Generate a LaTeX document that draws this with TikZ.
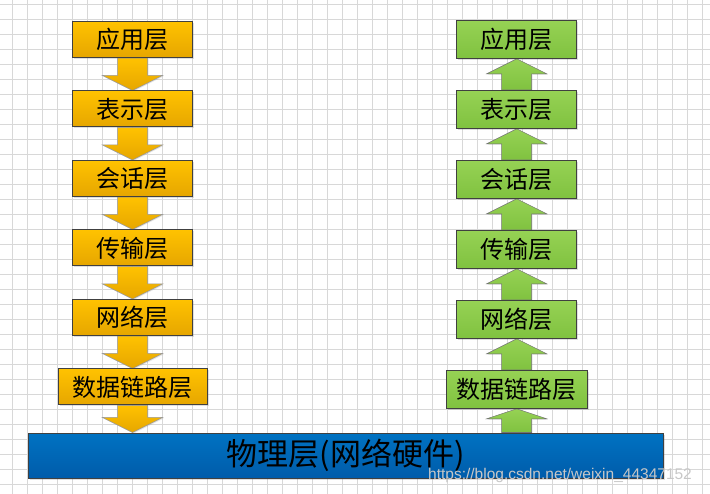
\documentclass[tikz,border=0pt]{standalone}
\usepackage{fontspec}
\setmainfont{Noto Sans CJK SC}
\newfontfamily\markfont{Liberation Sans}
\usepackage{tikz}
\usetikzlibrary{positioning, calc, backgrounds, shadows}

\definecolor{sendtop}{RGB}{255,194,0}
\definecolor{sendbot}{RGB}{230,166,0}
\definecolor{recvtop}{RGB}{150,210,84}
\definecolor{recvbot}{RGB}{128,194,64}
\definecolor{hwtop}{RGB}{0,114,194}
\definecolor{hwbot}{RGB}{0,92,170}
\definecolor{gridgray}{RGB}{216,216,216}

\begin{document}
\begin{tikzpicture}[x=1pt, y=1pt]

  \tikzstyle{layer}=[draw=black!75, line width=1pt, inner sep=0pt, minimum width=120pt,
    font=\fontsize{24}{24}\selectfont,
    drop shadow={shadow xshift=1.5pt, shadow yshift=-1.5pt, opacity=.25}]
  \tikzstyle{send}=[layer, minimum height=36pt, top color=sendtop, bottom color=sendbot]
  \tikzstyle{recv}=[layer, minimum height=38pt, top color=recvtop, bottom color=recvbot]
  \tikzstyle{hw}=[layer, minimum width=635pt, minimum height=45pt,
    top color=hwtop, bottom color=hwbot, font=\fontsize{31}{31}\selectfont]
  \tikzstyle{downblock}=[draw=black!40, line width=.5pt, top color=sendtop, bottom color=sendbot,
    drop shadow={shadow xshift=1pt, shadow yshift=-1pt, opacity=.2}]
  \tikzstyle{upblock}=[draw=black!55, line width=.5pt, top color=recvtop, bottom color=recvbot,
    drop shadow={shadow xshift=1pt, shadow yshift=-1pt, opacity=.2}]
  \tikzstyle{gridline}=[gridgray, line width=.8pt]

  \useasboundingbox (0,-494) rectangle (710,0);

  % sending side
  \node [send] (s-app) at (132.5,-39.5) {应用层};
  \node [send, below = 32.5pt of s-app] (s-pre) {表示层};
  \node [send, below = 32.5pt of s-pre] (s-ses) {会话层};
  \node [send, below = 32.5pt of s-ses] (s-tra) {传输层};
  \node [send, below = 32.5pt of s-tra] (s-net) {网络层};
  \node [send, below = 32.5pt of s-net, minimum width=149pt] (s-dl) {数据链路层};

  % receiving side
  \node [recv] (r-app) at (516.7,-39.3) {应用层};
  \node [recv, below = 31pt of r-app] (r-pre) {表示层};
  \node [recv, below = 31pt of r-pre] (r-ses) {会话层};
  \node [recv, below = 31pt of r-ses] (r-tra) {传输层};
  \node [recv, below = 31pt of r-tra] (r-net) {网络层};
  \node [recv, below = 31pt of r-net, minimum width=141pt] (r-dl) {数据链路层};

  \node [hw] (phys) at (345.5,-455.5) {物理层(网络硬件)};

  \coordinate (s-hit) at (s-dl.south |- phys.north);
  \coordinate (r-base) at (r-dl.south |- phys.north);

  \node [anchor=base west, font=\markfont\fontsize{15.5}{15.5}\selectfont, text=black!22, inner sep=0pt]
    (mark) at (428,-479) {https://blog.csdn.net/weixin\_44347152};

  \begin{scope}[on background layer]
    \foreach \x in {12.7,27.7,...,710} \draw [gridline] (\x,0) -- (\x,-494);
    \foreach \y in {4.3,19.3,...,494} \draw [gridline] (0,-\y) -- (710,-\y);

    \foreach \a/\b/\h in {s-app.south/s-pre.north/15, s-pre.south/s-ses.north/15,
        s-ses.south/s-tra.north/15, s-tra.south/s-net.north/15,
        s-net.south/s-dl.north/15, s-dl.south/s-hit/15}
      \draw [downblock] ($(\a)+(-15,0)$) -- ($(\b)+(-15,\h)$) -- ($(\b)+(-30,\h)$) -- (\b)
        -- ($(\b)+(30,\h)$) -- ($(\b)+(15,\h)$) -- ($(\a)+(15,0)$) -- cycle;

    \foreach \a/\b/\h in {r-pre.north/r-app.south/15, r-ses.north/r-pre.south/15,
        r-tra.north/r-ses.south/15, r-net.north/r-tra.south/15,
        r-dl.north/r-net.south/15, r-base/r-dl.south/10}
      \draw [upblock] ($(\a)+(-15,0)$) -- ($(\b)+(-15,-\h)$) -- ($(\b)+(-30,-\h)$) -- (\b)
        -- ($(\b)+(30,-\h)$) -- ($(\b)+(15,-\h)$) -- ($(\a)+(15,0)$) -- cycle;
  \end{scope}
\end{tikzpicture}
\end{document}
